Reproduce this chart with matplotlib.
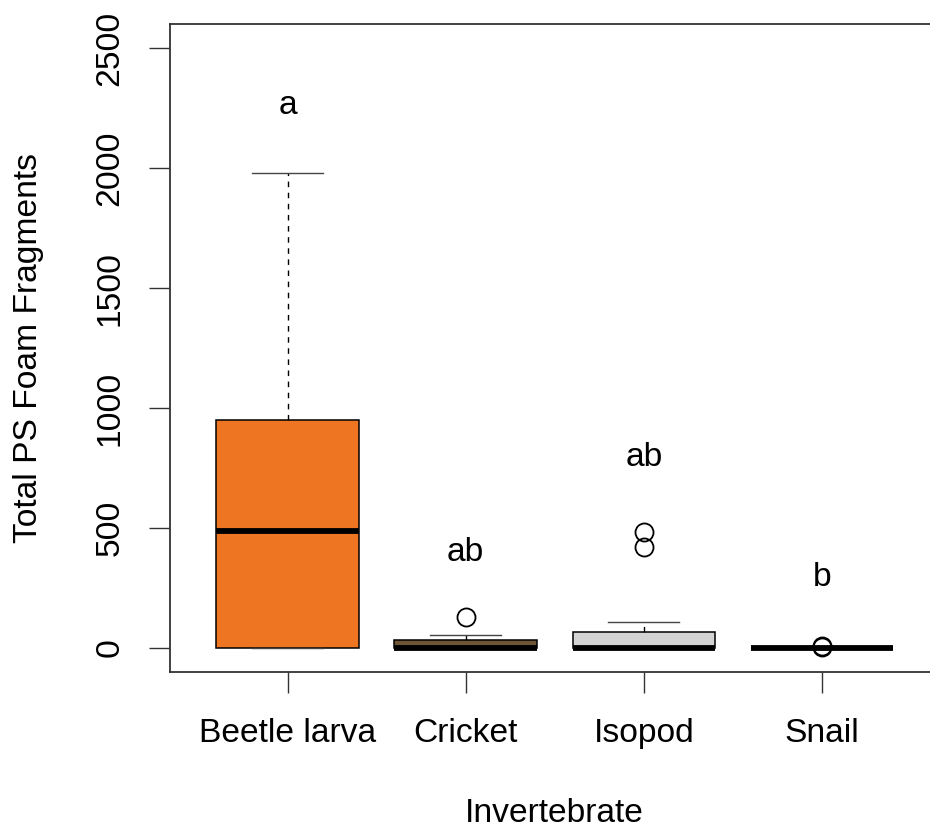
import matplotlib
matplotlib.use("Agg")
import matplotlib.pyplot as plt

GROUPS = ["Beetle larva", "Cricket", "Isopod", "Snail"]
Q1 = [0, 0, 0, 0]
MEDIANS = [487, 2, 0, 0]
Q3 = [950, 32, 67, 2]
WHISK_LO = [0, 0, 0, 0]
WHISK_HI = [1980, 55, 108, 3]
FLIERS = [[], [130], [420, 485], [5, 10]]
LETTERS = ["a", "ab", "ab", "b"]
LETTER_Y = [2262, 396, 792, 292]
FILLS = ["#EE7623", "#6E5536", "#D3D3D3", "#D3D3D3"]
YTICKS = [0, 500, 1000, 1500, 2000, 2500]

FONT = 24.2

plt.rcParams["font.family"] = ["Liberation Sans", "DejaVu Sans"]


def build_stats():
    stats = []
    for i, name in enumerate(GROUPS):
        stats.append({
            "label": name,
            "q1": Q1[i],
            "med": MEDIANS[i],
            "q3": Q3[i],
            "whislo": WHISK_LO[i],
            "whishi": WHISK_HI[i],
            "fliers": FLIERS[i],
        })
    return stats


fig = plt.figure(figsize=(9.3, 8.31), dpi=100)
# right edge of the plot frame lies just outside the picture, as in the reference
ax = fig.add_axes([170 / 930, 159 / 831, 769.5 / 930, 648 / 831])

bp = ax.bxp(
    build_stats(),
    positions=range(1, len(GROUPS) + 1),
    widths=0.8,
    patch_artist=True,
    boxprops=dict(edgecolor="black", linewidth=1.1),
    medianprops=dict(color="black", linewidth=4.2, solid_capstyle="butt"),
    whiskerprops=dict(color="black", linewidth=1.0, linestyle=(0, (4, 4))),
    capprops=dict(color="#444444", linewidth=1.0),
    capwidths=0.4,
    flierprops=dict(marker="o", markersize=13, markerfacecolor="none",
                    markeredgecolor="black", markeredgewidth=1.3),
)
for patch, color in zip(bp["boxes"], FILLS):
    patch.set_facecolor(color)

for i, (txt, y) in enumerate(zip(LETTERS, LETTER_Y)):
    ax.text(i + 1, y, txt, ha="center", va="center", fontsize=FONT)

ax.set_xlim(0.34, 4.66)
ax.set_ylim(-100, 2600)
ax.set_yticks(YTICKS)
ax.set_yticklabels([str(v) for v in YTICKS], rotation=90, va="center")
ax.set_xticks(range(1, len(GROUPS) + 1))
ax.set_xticklabels(GROUPS)
ax.tick_params(axis="both", labelsize=FONT, length=15, width=1.0, color="#333333")
ax.tick_params(axis="y", pad=17)
ax.tick_params(axis="x", pad=18)

for side in ["left", "bottom", "top", "right"]:
    ax.spines[side].set_linewidth(1.3)
    ax.spines[side].set_color("#333333")

ax.set_ylabel("Total PS Foam Fragments", fontsize=FONT)
ax.yaxis.set_label_coords(-0.164, 0.5)
ax.set_xlabel("Invertebrate", fontsize=FONT)
ax.xaxis.set_label_coords(0.5, -0.195)

fig.savefig("out.png", dpi=100)
